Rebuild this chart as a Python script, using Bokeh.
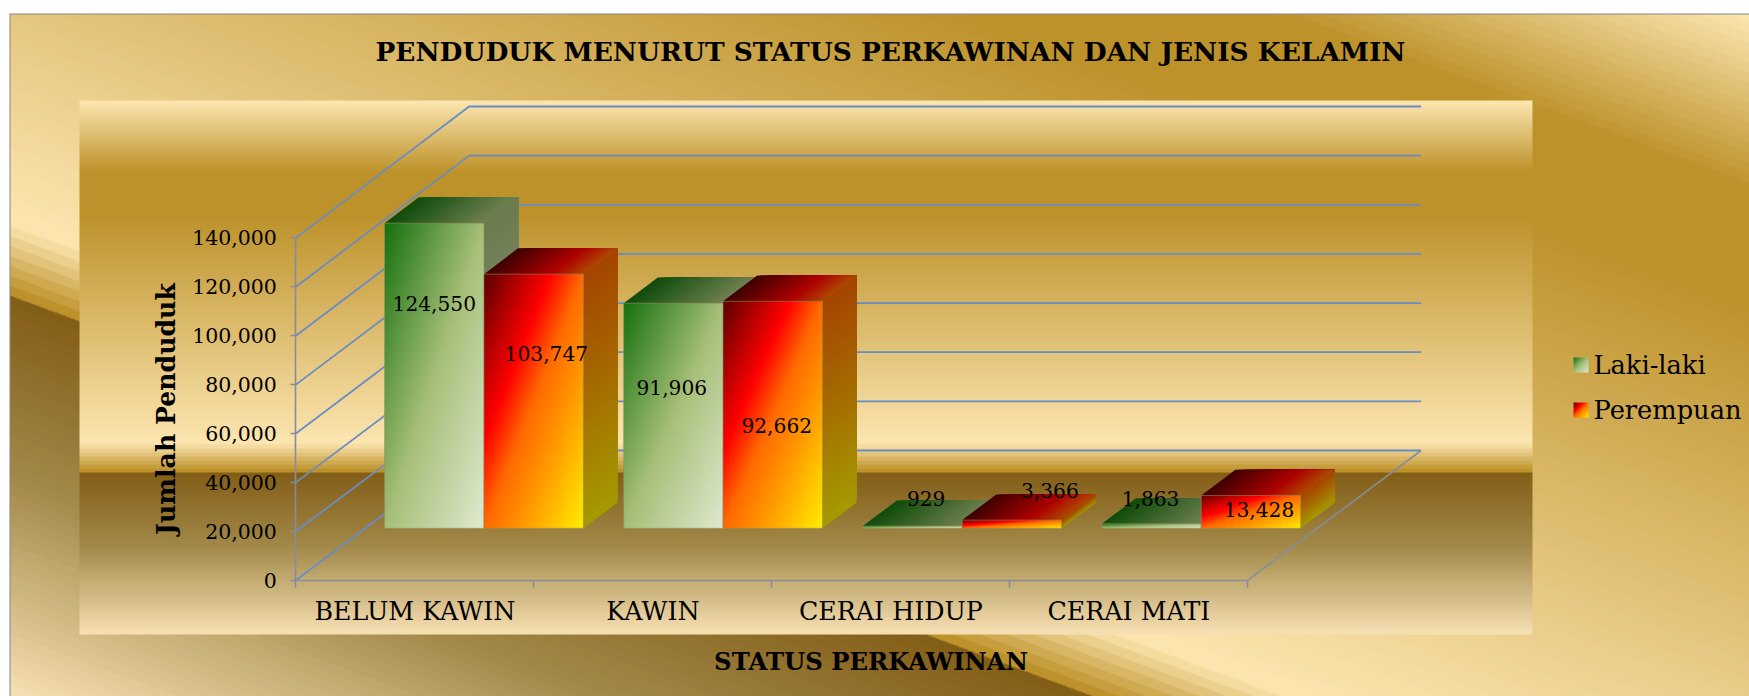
import numpy as np
from bokeh.plotting import figure
from bokeh.models import LinearAxis, FixedTicker, NumeralTickFormatter, Label
from bokeh.core.properties import value as V
from bokeh.embed import file_html
from bokeh.resources import INLINE

categories = ["BELUM KAWIN", "KAWIN", "CERAI HIDUP", "CERAI MATI"]
laki = [124550, 91906, 929, 1863]
perempuan = [103747, 92662, 3366, 13428]
y_ticks = [0, 20000, 40000, 60000, 80000, 100000, 120000, 140000]
series_names = ["Laki-laki", "Perempuan"]
title_text = "PENDUDUK MENURUT STATUS PERKAWINAN DAN JENIS KELAMIN"
x_title = "STATUS PERKAWINAN"
y_title = "Jumlah Penduduk"

FONT = "DejaVu Serif"
X0, PXX = 295.4, 238.0
Y0, PXY = 579.7, 48.9 / 20000
def xd(px): return (px - X0) / PXX
def yd(py): return (Y0 - py) / PXY
DX, DY = 173.2 / PXX, 129.7 / PXY
D0, D1 = 0.4, 0.597
GAP, BW, STEP = 0.0815, 0.4176, 1.0046
def up(v, d): return v * (1 + .005 * d) + d * DY

p = figure(width=1741, height=688, output_backend="svg", toolbar_location=None,
           x_range=(xd(8), xd(1749)), y_range=(yd(696), yd(8)),
           x_axis_location=None, y_axis_location=None, min_border=0,
           outline_line_color=None, border_fill_color="white", background_fill_color="white")
p.styles = {"position": "absolute", "left": "8px", "top": "8px"}
p.grid.visible = False

def hexrgb(h): return [int(h[i:i+2], 16) for i in (1, 3, 5)]
def ramp(f, stops):
    pos = [s[0] for s in stops]
    cols = np.array([hexrgb(s[1]) for s in stops], float)
    return np.stack([np.interp(f, pos, cols[:, k]) for k in range(3)], axis=-1)
def to_rgba(rgb):
    a = np.clip(rgb, 0, 255).astype(np.uint32)
    return a[..., 0] | (a[..., 1] << 8) | (a[..., 2] << 16) | (255 << 24)
def to_hex(c):
    return "#%02x%02x%02x" % tuple(int(np.clip(v, 0, 255)) for v in c)

GOLD = [(0, "#fbe4ae"), (.13, "#bd922a"), (.21, "#bd922a"), (.63, "#fbe4ae"), (.64, "#fbe4ae"),
        (.69, "#bd922a"), (.695, "#835e17"), (.83, "#a28949"), (1, "#fae3b7")]
GREEN = [(0, "#16700f"), (.5, "#a6bf78"), (1, "#e0ead0")]
RED = [(0, "#5c0000"), (.33, "#ff0000"), (.5, "#ff6a00"), (.7, "#ff9c00"), (1, "#ffee00")]
BAND = 0.0075

# backdrop
L, T, B, R = 9, 13, 696, 1749
yy, xx = np.mgrid[T:B, L:R]
yy = yy + .5; xx = xx + .5
t = yy - 0.37 * xx
f = (t + 634) / 1327.0
bg = ramp(np.floor(f / BAND) * BAND, GOLD)
PL, PR, PT, PB = 79, 1532, 100, 634
fy = (yy - PT) / (PB - PT)
inside = (xx >= PL) & (xx < PR) & (yy >= PT) & (yy < PB)
bg[inside] = ramp(np.floor(fy[inside] / BAND) * BAND, GOLD)
bg[0, :] = hexrgb("#868686")
bg[:, 0] = hexrgb("#868686")
p.image_rgba(image=[to_rgba(bg[::-1])], x=xd(L), y=yd(B), dw=xd(R) - xd(L), dh=yd(T) - yd(B))

# walls and floor lines
wall_xs = [[0, DX, 4 + DX] for _ in y_ticks]
wall_ys = [[v, up(v, 1), up(v, 1)] for v in y_ticks]
p.multi_line(wall_xs, wall_ys, line_color="#6a8cc4", line_width=1.8)
p.line([4, 4 + DX], [0, DY], line_color="#868c9c", line_width=1.6)

# bars
def bar(i, pos, val, stops):
    x0 = i * STEP + GAP + pos * BW
    xs, ys, cs = [], [], []
    # top face, painted left to right, each strip running on to the far edge
    n = 30
    for k in range(n):
        a = k / n
        xs.append([x0 + a * BW + D0 * DX, x0 + BW + D0 * DX, x0 + BW + D1 * DX, x0 + a * BW + D1 * DX])
        ys.append([up(val, D0), up(val, D0), up(val, D1), up(val, D1)])
        cs.append(to_hex(ramp((a + .5 / n) / 2, stops) * .68))
    # side face, painted upwards the same way
    m = 50
    xr = x0 + BW
    for k in range(m):
        a = k / m
        xs.append([xr + D0 * DX, xr + D1 * DX, xr + D1 * DX, xr + D0 * DX])
        ys.append([up(val * a, D0), up(val * a, D1), up(val, D1), up(val, D0)])
        cs.append(to_hex(ramp(1 - .5 * (a + .5 / m), stops) * .65))
    p.patches(xs, ys, fill_color=cs, line_color=None)
    # front face
    ny = max(2, int(val * PXY))
    nx = 100
    vv, uu = np.mgrid[0:ny, 0:nx]
    tt = ((uu + .5) / nx + 1 - (vv + .5) / ny) / 2
    h = up(val, D0) - up(0, D0)
    p.image_rgba(image=[to_rgba(ramp(tt, stops))], x=x0 + D0 * DX, y=up(0, D0), dw=BW, dh=h)
    p.quad(left=[x0 + D0 * DX], right=[x0 + BW + D0 * DX], bottom=[up(0, D0)], top=[up(val, D0)],
           fill_alpha=0, line_color="#8f8f60", line_alpha=.55, line_width=1)

for i in range(len(categories)):
    bar(i, 0, laki[i], GREEN)
    bar(i, 1, perempuan[i], RED)

# value labels, offset by hand as in the original
lab_dx = [[0, 12.7], [-1.6, 4], [13.7, 38], [-1, 8]]
lab_dy = [[80, 79], [84, 124], [-28, -30], [-25, 14]]
tx, ty, ts, ox, oy = [], [], [], [], []
for i in range(len(categories)):
    for j, vals in enumerate((laki, perempuan)):
        tx.append(i * STEP + GAP + (j + .5) * BW + D0 * DX)
        ty.append(up(vals[i], D0))
        ts.append(f"{vals[i]:,}")
        ox.append(lab_dx[i][j]); oy.append(lab_dy[i][j])
p.text(tx, ty, ts, x_offset=ox, y_offset=oy, text_font=V(FONT), text_font_size="20.2px",
       text_align="center", text_baseline="middle", text_color="black")

# axes
yax = LinearAxis(fixed_location=0, bounds=(0, 140000), ticker=FixedTicker(ticks=y_ticks),
                 formatter=NumeralTickFormatter(format="0,0"), axis_label=y_title,
                 axis_label_text_font=FONT, axis_label_text_font_style="bold", axis_label_text_font_size="25.2px",
                 axis_label_text_color="black", axis_label_standoff=8,
                 major_label_text_font=FONT, major_label_text_font_size="20.5px", major_label_text_color="black",
                 major_label_standoff=14, major_tick_in=0, major_tick_out=5, minor_tick_line_color=None,
                 axis_line_color="#868c9c", axis_line_width=1.6, major_tick_line_color="#868c9c", major_tick_line_width=1.6)
p.add_layout(yax, "left")
lab_ticks = [i + .5 for i in range(len(categories))]
xlab = LinearAxis(fixed_location=0, bounds=(0, 4.834), ticker=FixedTicker(ticks=lab_ticks),
                  major_label_overrides=dict(zip(lab_ticks, categories)), axis_label=x_title,
                  axis_label_text_font=FONT, axis_label_text_font_style="bold", axis_label_text_font_size="24.3px",
                  axis_label_text_color="black", axis_label_standoff=17,
                  major_label_text_font=FONT, major_label_text_font_size="25.3px", major_label_text_color="black",
                  major_label_standoff=17, major_tick_line_color=None, minor_tick_line_color=None,
                  major_tick_in=0, major_tick_out=0, axis_line_color=None)
p.add_layout(xlab, "below")
xax = LinearAxis(fixed_location=0, bounds=(0, 4), ticker=FixedTicker(ticks=[0, 1, 2, 3, 4]),
                 major_label_text_color=None, major_label_text_font_size="1px",
                 major_tick_in=0, major_tick_out=7, minor_tick_line_color=None,
                 axis_line_color="#868c9c", axis_line_width=1.6, major_tick_line_color="#868c9c", major_tick_line_width=1.6)
p.add_layout(xax, "below")

# title
p.add_layout(Label(x=xd(890), y=yd(51), text=title_text, text_font=FONT, text_font_style="bold",
                   text_font_size="26.4px", text_color="black", text_align="center", text_baseline="middle"))

# legend
for name, stops, top in zip(series_names, (GREEN, RED), (357, 402)):
    vv, uu = np.mgrid[0:15, 0:15]
    tt = ((uu + .5) / 15 + 1 - (vv + .5) / 15) / 2
    p.image_rgba(image=[to_rgba(ramp(tt, stops))], x=xd(1573), y=yd(top + 15), dw=xd(1588) - xd(1573), dh=yd(top) - yd(top + 15))
    p.text([xd(1593)], [yd(top + 7)], [name], text_font=V(FONT), text_font_size="25.7px",
           text_baseline="middle", text_color="black")

open("out.html", "w").write(file_html(p, INLINE))
